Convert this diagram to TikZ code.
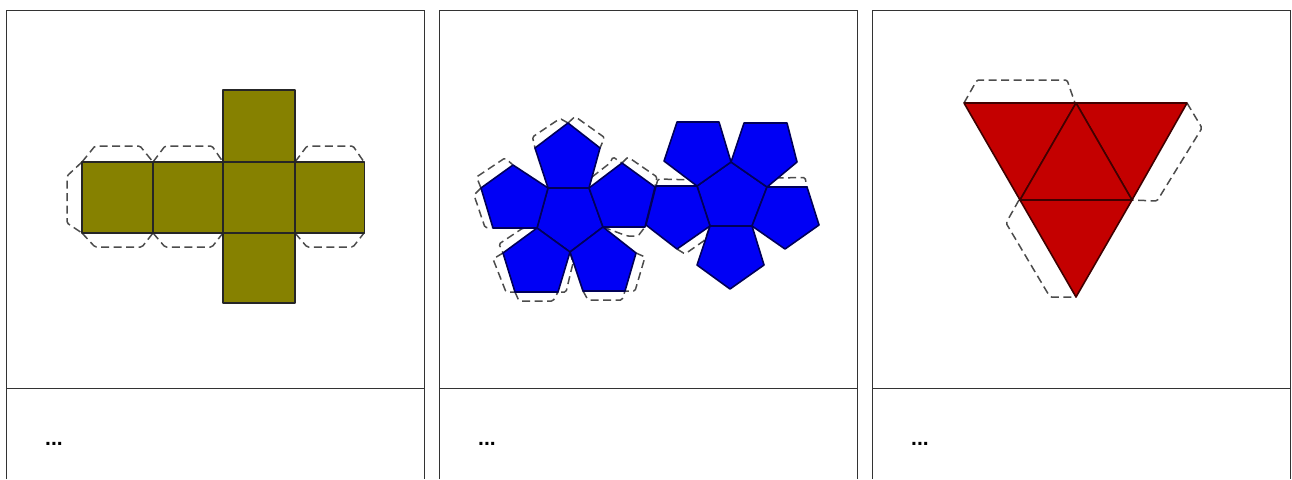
\documentclass[tikz,border=0pt]{standalone}
\usepackage{fontspec}
\setmainfont{Liberation Sans}
\definecolor{cubeolive}{HTML}{868100}
\definecolor{dodecablue}{HTML}{0000F5}
\definecolor{tetrared}{HTML}{C40000}
\tikzset{
    panel/.style={draw=black!80, line width=1.2pt},
    flap/.style={draw=black!70, line width=1.5pt, dash pattern=on 8pt off 4.5pt, rounded corners=1.5pt},
    cubeface/.style={fill=cubeolive, draw=black!85, line width=1.6pt, line join=round},
    dodecaface/.style={fill=dodecablue, draw=blue!35!black, line width=1.6pt, line join=round},
    tetraface/.style={fill=tetrared, draw=red!25!black, line width=1.6pt, line join=round},
    dots/.style={font=\fontsize{21}{21}\selectfont\bfseries, inner sep=0pt, anchor=base west}
}
\begin{document}
\begin{tikzpicture}[x=1pt,y=-1pt]

\useasboundingbox (0,0) rectangle (1292,479);

\foreach \l/\r/\name in {6.5/424.5/one,439.5/857.5/two,872.5/1290.5/three} {
    \draw[panel] (\l,479) |- (\r,10.5) -- (\r,479);
    \draw[panel] (\l,388.5) -- (\r,388.5);
    \node[dots] (dots\name) at (\l+38.5,445.5) {...};
}

\draw[flap] (82,162) -- (67,176) -- (67,223) -- (82,233);
\draw[flap] (82,162) -- (95,146) -- (140,146) -- (153,162);
\draw[flap] (153,162) -- (165,146) -- (212,146) -- (223,162);
\draw[flap] (295,162) -- (307,146) -- (353,146) -- (364,162);
\draw[flap] (82,233) -- (95,247) -- (142,247) -- (153,233);
\draw[flap] (153,233) -- (165,247) -- (212,247) -- (223,233);
\draw[flap] (295,233) -- (307,247) -- (353,247) -- (364,233);

\draw[cubeface] (223,90) rectangle (295,162);
\draw[cubeface] (82,162) rectangle (153,233);
\draw[cubeface] (153,162) rectangle (223,233);
\draw[cubeface] (223,162) rectangle (295,233);
\draw[cubeface] (295,162) rectangle (364.5,233);
\draw[cubeface] (223,233) rectangle (295,303);

\draw[flap] (568,123) -- (560,118.5) -- (532.5,137) -- (535,148);
\draw[flap] (568,123) -- (575,116.5) -- (604.5,137.5) -- (600,148);
\draw[flap] (592,177) -- (610,163) -- (613,157) -- (622,163);
\draw[flap] (622,163) -- (628,157) -- (657,177) -- (655,187);
\draw[flap] (481,188) -- (476.5,177) -- (505,158) -- (513,165);
\draw[flap] (481,188) -- (474,195) -- (485,227.5) -- (493,227.5);
\draw[flap] (537,228) -- (523,228) -- (499,244) -- (503,253);
\draw[flap] (503,253) -- (493,259) -- (506,292) -- (515,292);
\draw[flap] (515,292) -- (519,301) -- (553,301) -- (558,292);
\draw[flap] (570,252) -- (573,263) -- (566,292) -- (558,292);
\draw[flap] (583,291) -- (588,300) -- (622,300) -- (625,291);
\draw[flap] (636,253) -- (645,257) -- (635,291) -- (625,291);
\draw[flap] (603,227) -- (627,236) -- (638,236) -- (645,227);
\draw[flap] (656,186) -- (658,179) -- (697,180);
\draw[flap] (677,249) -- (685,254) -- (705,240) -- (710,226);
\draw[flap] (767,187) -- (775,178) -- (805,177.5) -- (807,187);

\draw[dodecaface] (548,188) -- (589,188) -- (603,227) -- (570,252) -- (537,228) -- cycle;
\draw[dodecaface] (548,188) -- (535,148) -- (568,123) -- (600,148) -- (589,188) -- cycle;
\draw[dodecaface] (548,188) -- (537,228) -- (493,228) -- (481,188) -- (513,165) -- cycle;
\draw[dodecaface] (589,188) -- (622,163) -- (655,187) -- (645,227) -- (603,227) -- cycle;
\draw[dodecaface] (537,228) -- (570,252) -- (558,292) -- (515,292) -- (503,253) -- cycle;
\draw[dodecaface] (570,252) -- (603,227) -- (636,253) -- (625,291) -- (583,291) -- cycle;

\draw[dodecaface] (731,162) -- (767,187) -- (752,226) -- (710,226) -- (697,186) -- cycle;
\draw[dodecaface] (697,186) -- (731,162) -- (719,122) -- (677,122) -- (664,161) -- cycle;
\draw[dodecaface] (731,162) -- (767,187) -- (797,162) -- (787,123) -- (744,123) -- cycle;
\draw[dodecaface] (767,187) -- (807,187) -- (819,225) -- (785,249) -- (752,226) -- cycle;
\draw[dodecaface] (710,226) -- (752,226) -- (764,265) -- (730,289) -- (697,265) -- cycle;
\draw[dodecaface] (697,186) -- (710,226) -- (677,249) -- (646,225) -- (656,186) -- cycle;

\draw[flap] (964,103) -- (977,80) -- (1067,80) -- (1075,103);
\draw[flap] (1187,103) -- (1202,128) -- (1157,201) -- (1132,200);
\draw[flap] (1019,200) -- (1006,223) -- (1050,297) -- (1076,297);

\draw[tetraface] (964,103) -- (1076,103) -- (1020,200) -- cycle;
\draw[tetraface] (1076,103) -- (1187,103) -- (1132,200) -- cycle;
\draw[tetraface] (1076,103) -- (1132,200) -- (1020,200) -- cycle;
\draw[tetraface] (1020,200) -- (1132,200) -- (1076,297) -- cycle;

\end{tikzpicture}
\end{document}
